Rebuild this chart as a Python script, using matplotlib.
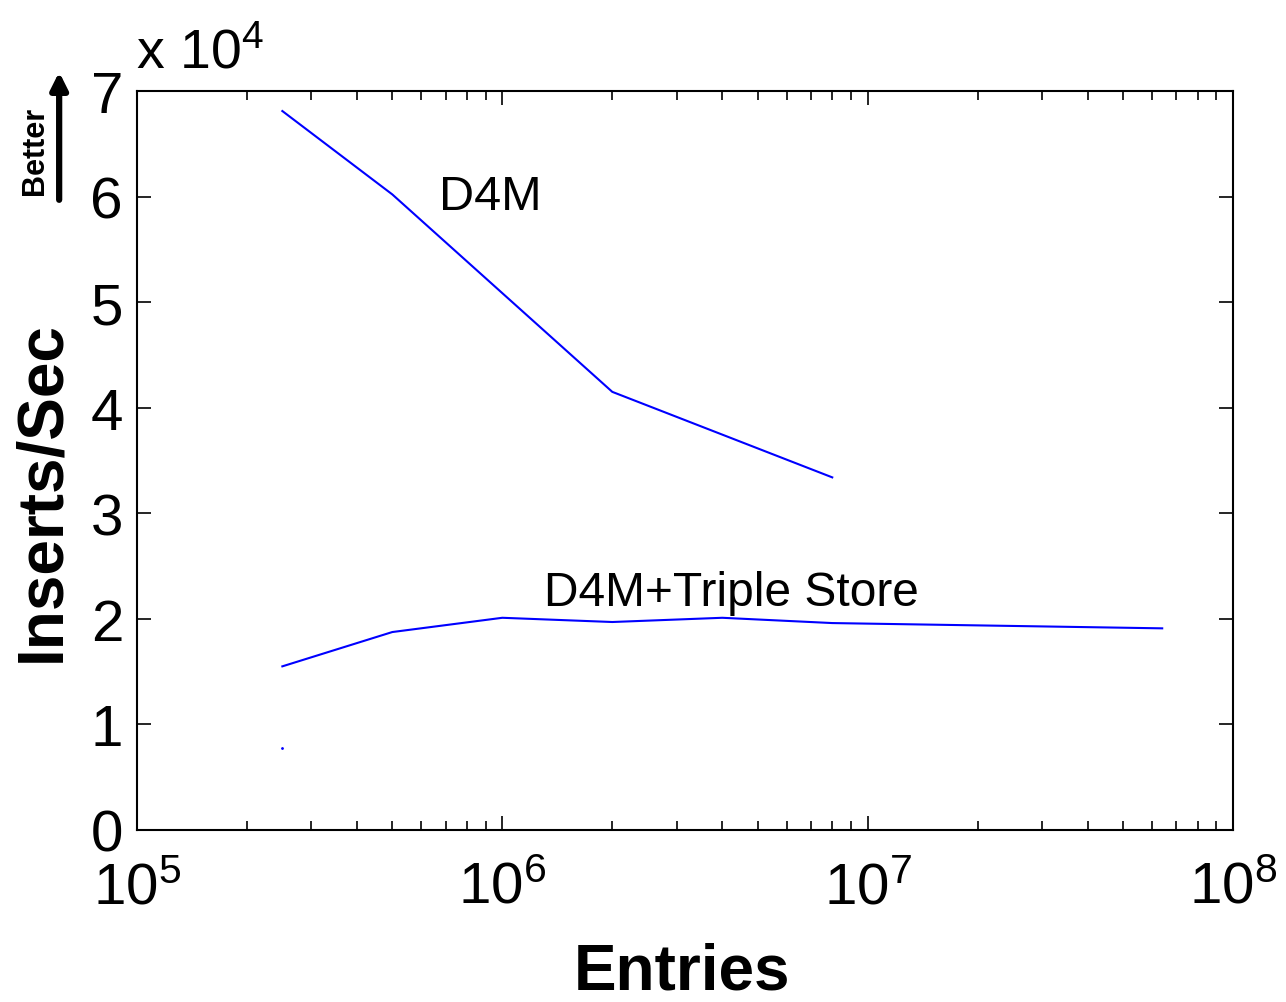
import matplotlib
matplotlib.use('Agg')
import matplotlib.pyplot as plt

plt.rcParams['font.family'] = ['Liberation Sans', 'DejaVu Sans']
plt.rcParams['mathtext.fontset'] = 'custom'
plt.rcParams['mathtext.rm'] = 'Liberation Sans'
plt.rcParams['mathtext.it'] = 'Liberation Sans:italic'
plt.rcParams['mathtext.bf'] = 'Liberation Sans:bold'
plt.rcParams['mathtext.default'] = 'regular'

# данные
d4m_x = [2.5e5, 5e5, 2e6, 8e6]
d4m_y = [68100, 60200, 41500, 33400]

triple_x = [2.5e5, 5e5, 1e6, 2e6, 4e6, 8e6, 6.4e7]
triple_y = [15500, 18750, 20100, 19700, 20100, 19600, 19100]

single_x = [2.5e5]
single_y = [7800]

yticks = [0, 10000, 20000, 30000, 40000, 50000, 60000, 70000]
ytick_labels = ['0', '1', '2', '3', '4', '5', '6', '7']

fig = plt.figure(figsize=(12.86, 10.03), dpi=100)
ax = fig.add_axes([0.1065, 0.1715, 0.8523, 0.7368])

ax.plot(d4m_x, d4m_y, color='#0000ff', lw=1.5)
ax.plot(triple_x, triple_y, color='#0000ff', lw=1.5)
ax.plot(single_x, single_y, color='#0000ff', marker='.', ms=2, lw=0)

ax.set_xscale('log')
ax.set_xlim(1e5, 1e8)
ax.set_ylim(0, 70000)
ax.set_yticks(yticks)
ax.set_yticklabels(ytick_labels)
ax.set_xticks([1e5, 1e6, 1e7, 1e8])

ax.tick_params(which='both', direction='in', top=True, right=True, width=1.2)
ax.tick_params(which='major', length=10, labelsize=42, pad=10)
ax.tick_params(which='minor', length=6.5)
ax.tick_params(axis='x', which='major', pad=22)
for s in ax.spines.values():
    s.set_linewidth(1.5)

ax.text(6.7e5, 58800, 'D4M', fontsize=35)
ax.text(1.3e6, 21300, 'D4M+Triple Store', fontsize=34.5)

fig.text(0.53, 0.03, 'Entries', fontsize=46, fontweight='bold', ha='center', va='center')
fig.text(0.033, 0.51, 'Inserts/Sec', fontsize=46, fontweight='bold', rotation=90,
         ha='center', va='center')

fig.text(0.106, 0.932, r'x 10$^{4}$', fontsize=40, va='baseline')

# стрелка "Better"
ax.annotate('', xy=(0.046, 0.93), xytext=(0.046, 0.797), xycoords='figure fraction',
            arrowprops=dict(arrowstyle='-|>', color='black', lw=4.5, mutation_scale=25))
fig.text(0.027, 0.85, 'Better', rotation=90, fontsize=22, fontweight='bold',
         ha='center', va='center')

fig.savefig('out.png', dpi=100)
